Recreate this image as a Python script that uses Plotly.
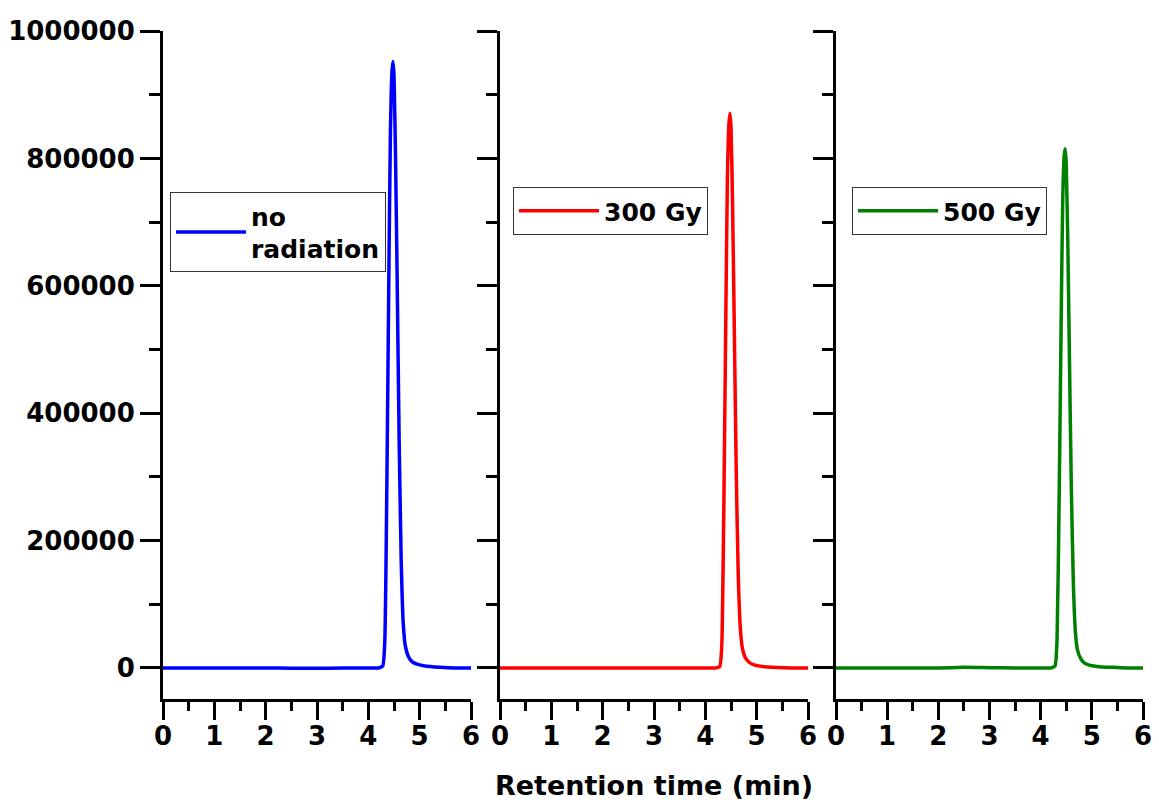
import plotly.graph_objects as go

# ---- data ----
retention_time = [0.0, 0.5, 1.0, 1.5, 2.0, 2.5, 3.0, 3.5, 4.0, 4.2, 4.28, 4.32, 4.36, 4.40,
                  4.43, 4.46, 4.48, 4.50, 4.53, 4.56, 4.60, 4.64, 4.68, 4.72, 4.78, 4.85,
                  4.95, 5.1, 5.4, 5.7, 6.0]
no_radiation = [0, 0, 0, 0, 0, -300, -500, 0, 0, 0, 3000, 40000, 280000, 620000,
                840000, 935000, 952000, 930000, 800000, 620000, 360000, 170000, 70000, 35000,
                18000, 10000, 6000, 3000, 1000, 0, 0]
gy300 = [0, 0, 0, 0, 0, 0, 0, 0, 0, 0, 2000, 35000, 250000, 560000,
         770000, 855000, 871000, 850000, 730000, 560000, 320000, 150000, 65000, 32000,
         16000, 9000, 5000, 2500, 800, 0, 0]
gy500 = [0, 0, 0, 0, 0, 1000, 500, 0, 0, 0, 3000, 45000, 260000, 540000,
         730000, 805000, 815000, 790000, 670000, 500000, 280000, 130000, 55000, 28000,
         15000, 8000, 4500, 2500, 1000, 0, 0]

series_names = ["no<br>radiation", "300 Gy", "500 Gy"]
series_values = [no_radiation, gy300, gy500]
series_colors = ["#0000FF", "#FF0000", "#008000"]

x_ticks = [0, 1, 2, 3, 4, 5, 6]
y_ticks = [0, 200000, 400000, 600000, 800000, 1000000]
x_title = "Retention time (min)"

FONT = "DejaVu Sans"
W, H = 1159, 805

fig = go.Figure()

x_domains = [(163 / W, 471 / W), (500 / W, 808 / W), (836 / W, 1143 / W)]
y_domain = (1 - 699 / H, 1 - 31 / H)
legend_pos = [(170 / W, 1 - 192 / H), (513 / W, 1 - 187 / H), (852 / W, 1 - 187 / H)]
legend_itemwidth = [70, 80, 80]
legend_keys = ["legend", "legend2", "legend3"]

for i, (name, vals, col) in enumerate(zip(series_names, series_values, series_colors)):
    sfx = "" if i == 0 else str(i + 1)
    fig.add_trace(go.Scatter(
        x=retention_time, y=vals, mode="lines", name=name,
        line=dict(color=col, width=3.5, shape="spline", smoothing=0.5),
        xaxis="x" + sfx, yaxis="y" + sfx,
        legend=legend_keys[i], showlegend=True,
    ))

layout = dict(
    width=W, height=H,
    margin=dict(l=0, r=0, t=0, b=0, autoexpand=False),
    paper_bgcolor="white", plot_bgcolor="white",
    showlegend=True,
    font=dict(family=FONT, size=25, color="black", weight="bold"),
)

for i in range(3):
    sfx = "" if i == 0 else str(i + 1)
    xa = dict(
        domain=list(x_domains[i]), range=[0, 6], anchor="y" + sfx,
        showline=True, linewidth=3, linecolor="black",
        ticks="outside", ticklen=18, tickwidth=3, tickcolor="black",
        tickvals=x_ticks, ticktext=[str(t) for t in x_ticks],
        ticklabelstandoff=-6,
        minor=dict(dtick=0.5, ticks="outside", ticklen=9, tickwidth=3, tickcolor="black", showgrid=False),
        showgrid=False, zeroline=False,
        tickfont=dict(family=FONT, size=26, color="black", weight="bold"),
        automargin=False,
    )
    if i == 1:
        xa["title"] = dict(text=x_title, standoff=26,
                           font=dict(family=FONT, size=27, color="black", weight="bold"))
    ya = dict(
        domain=list(y_domain), range=[-48700, 1000000], anchor="x" + sfx,
        showline=True, linewidth=3, linecolor="black",
        ticks="outside", ticklen=20, tickwidth=3, tickcolor="black",
        tickvals=y_ticks, ticktext=[str(t) for t in y_ticks],
        minor=dict(dtick=100000, tick0=0, ticks="outside", ticklen=11, tickwidth=3, tickcolor="black", showgrid=False),
        showgrid=False, zeroline=False,
        showticklabels=(i == 0),
        tickfont=dict(family=FONT, size=26, color="black", weight="bold"),
        automargin=False,
    )
    layout["xaxis" + sfx] = xa
    layout["yaxis" + sfx] = ya
    layout[legend_keys[i]] = dict(
        x=legend_pos[i][0], y=legend_pos[i][1], xanchor="left", yanchor="top",
        bgcolor="rgba(255,255,255,0)", bordercolor="#333333", borderwidth=1,
        font=dict(family=FONT, size=25, color="black", weight="bold"),
        itemwidth=legend_itemwidth[i], visible=True,
    )

fig.update_layout(**layout)
fig.write_html("out.html")
